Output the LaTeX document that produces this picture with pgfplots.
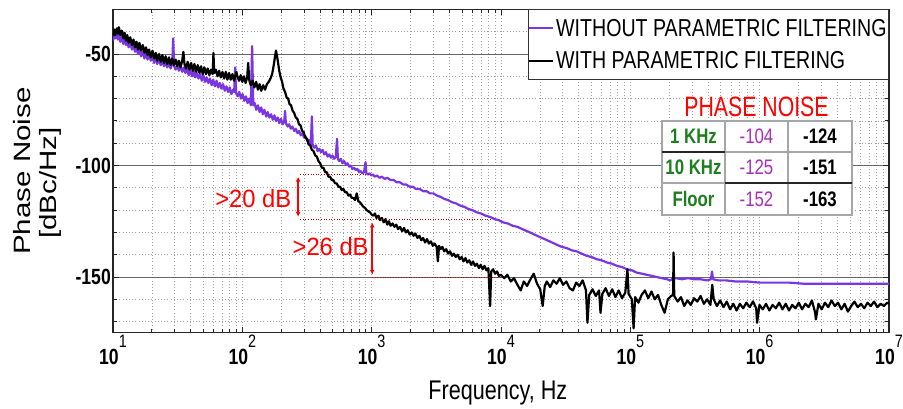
\documentclass[border=0pt]{standalone}
\usepackage{pgfplots}
\pgfplotsset{compat=1.18}
\usepackage{fontspec}
\usepackage{graphicx}
\usetikzlibrary{arrows.meta}
\setmainfont{Liberation Sans}[FakeStretch=0.8]
\newfontfamily\wfont{Liberation Sans}[FakeStretch=0.95]
\newfontfamily\plainfont{Liberation Sans}
\newfontfamily\cfont{Liberation Sans}[FakeStretch=0.76]
\definecolor{pline}{RGB}{123,54,227}
\definecolor{ptext}{RGB}{170,45,190}
\definecolor{gtext}{RGB}{30,125,30}
\newcommand{\tl}[1]{\textbf{10}\raisebox{17pt}{\fontsize{18}{18}\selectfont\mdseries #1}}
\begin{document}
\begin{tikzpicture}
\path[use as bounding box] (0,0) rectangle (903pt,409pt);
\begin{axis}[
  at={(113pt,76.2pt)}, anchor=south west,
  scale only axis, width=776pt, height=323.4pt,
  xmode=log, xmin=10, xmax=1e7, ymin=-175, ymax=-30,
  xtick={1e1,1e2,1e3,1e4,1e5,1e6,1e7},
  xticklabels={\tl{1},\tl{2},\tl{3},\tl{4},\tl{5},\tl{6},\tl{7}},
  minor xtick={20,30,40,50,60,70,80,90,200,300,400,500,600,700,800,900,2000,3000,4000,5000,6000,7000,8000,9000,20000,30000,40000,50000,60000,70000,80000,90000,200000,300000,400000,500000,600000,700000,800000,900000,2000000,3000000,4000000,5000000,6000000,7000000,8000000,9000000},
  ytick={-150,-100,-50}, yticklabels={-150,-100,-50},
  minor ytick={-170,-160,-140,-130,-120,-110,-90,-80,-70,-60,-40},
  grid=both,
  major x grid style={gray!75, line width=0.8pt, dash pattern=on 1pt off 2.2pt},
  minor x grid style={gray!75, line width=0.8pt, dash pattern=on 1pt off 2.2pt},
  major y grid style={black!60, line width=1pt},
  minor y grid style={gray!75, line width=0.8pt, dash pattern=on 1pt off 2.2pt},
  tick align=inside, tick pos=both,
  major tick length=6pt, minor tick length=4pt,
  tick style={black!85, line width=0.9pt},
  axis line style={black!85, line width=1.2pt},
  ticklabel style={font=\fontsize{22}{24}\selectfont\bfseries},
  xticklabel style={inner sep=2pt},
  yticklabel style={inner xsep=2pt},
  xlabel={Frequency, Hz},
  xlabel style={font=\fontsize{27}{30}\selectfont, at={(axis description cs:0.496,0)}, anchor=base, yshift=-67pt},
  ylabel={\scalebox{1}[0.8]{\plainfont\fontsize{29.5}{32.5}\selectfont\begin{tabular}{@{}c@{}}Phase Noise\\ {[dBc/Hz]}\hspace*{24pt}\end{tabular}}},
  ylabel style={at={(axis description cs:-0.0966,0.5)}, anchor=center},
  legend style={at={(rel axis cs:1,1)}, anchor=north east, draw=black!80, line width=1pt, fill=white,
    font=\fontsize{24.5}{28}\selectfont, inner xsep=0pt, inner ysep=2pt, row sep=0pt,
    nodes={inner ysep=7pt, inner xsep=2pt}},
  legend cell align=left,
  legend image code/.code={\draw[#1] (0pt,0pt) -- (24pt,0pt);},
]
\addplot[pline, line width=2.2pt, line join=round] coordinates {
(10,-44) (10.2,-41) (10.4,-43) (10.7,-40.5) (10.9,-43.5) (11.1,-41.5) (11.4,-44.5) (11.7,-42) (12,-45.5) (12.3,-43) (12.6,-46) (12.9,-44) (13.2,-47) (13.6,-45) (14,-48) (14.4,-46) (14.8,-49) (15.2,-47) (15.6,-50) (16,-48) (16.5,-51) (17,-49) (17.5,-52) (18,-49.5) (18.5,-52.5) (19,-50.5) (19.6,-53) (20.2,-51) (20.8,-54) (21.4,-51.5) (22,-54.5) (22.7,-52.5) (23.4,-55) (24.1,-53) (24.8,-55.5) (25.5,-53.5) (26.3,-56) (27.1,-54) (27.9,-56.5) (28.7,-54.5) (29.2,-43) (29.7,-55.5) (30.5,-57) (31.4,-55) (32.3,-57.5) (33.3,-55.5) (34.3,-58) (35.3,-56) (36.3,-58.5) (37.4,-56.5) (38.5,-59.5) (39.6,-57) (40.8,-60) (42,-57.5) (43.2,-60.5) (44.5,-58.5) (45.8,-61) (47.2,-59) (48.6,-62) (50,-59.5) (51.5,-62.5) (53,-60.5) (54.6,-63) (56.2,-61) (57.9,-64) (59.6,-61.5) (61.4,-64.5) (63.2,-62) (65.1,-65) (67,-63) (69,-65.5) (71,-63.5) (73.2,-66.5) (75.4,-64.5) (77.6,-67) (79.9,-65) (82.3,-68) (84.8,-66) (86.5,-67) (88,-56) (89.5,-67.5) (92,-69) (94.8,-67) (97.6,-70) (100.5,-68) (103.5,-71) (106.6,-69) (109.8,-72) (113,-70) (116.4,-73) (119,-46.5) (121.5,-73) (124.5,-72) (128,-75) (132,-73) (136,-76) (140,-74) (144,-77) (148,-75) (153,-78) (157,-76) (162,-78.5) (167,-77) (172,-79.5) (177,-77.5) (182,-80) (188,-78.5) (193,-81) (199,-79) (205,-81.5) (211,-80) (214,-75.5) (217,-81) (224,-82.5) (230,-81.5) (237,-83.5) (244,-82.5) (252,-84.5) (259,-83.5) (267,-85.5) (275,-84.5) (283,-86.5) (292,-85.5) (300,-87.5) (309,-87) (318,-89) (328,-88.5) (338,-91) (345,-78) (350,-91) (360,-92) (371,-91) (382,-93.5) (394,-92.5) (405,-94) (418,-93) (430,-95) (443,-94) (456,-96) (470,-95) (484,-96.5) (498,-95.5) (513,-97) (528,-96) (540,-88) (548,-97) (560,-98) (577,-97) (595,-99) (612,-98) (631,-99.5) (650,-99) (669,-100.5) (689,-100) (710,-101.5) (731,-101) (753,-102) (776,-101.5) (799,-103) (823,-102.5) (848,-103.5) (873,-103) (897,-98.5) (910,-103.5) (937,-104) (965,-103.5) (994,-104.5) (1024,-104) (1055,-105) (1100,-104.5) (1150,-105.5) (1200,-105) (1260,-106) (1320,-105.5) (1400,-106.5) (1480,-106.5) (1560,-107.5) (1650,-107.5) (1750,-108.5) (1850,-108.5) (1960,-109.5) (2080,-109.5) (2200,-110.5) (2350,-110.5) (2500,-111.5) (2660,-111.5) (2830,-112.5) (3000,-112.5) (3200,-113.5) (3400,-114) (3650,-115) (3900,-115.5) (4200,-116.5) (4500,-117) (4850,-118) (5200,-118.5) (5600,-119.5) (6000,-120) (6500,-121) (7000,-121.5) (7600,-122.5) (8200,-123) (8900,-124) (9600,-124.5) (10400,-125.5) (11300,-126) (12300,-127) (13400,-127.5) (14600,-128.5) (16000,-129.5) (17500,-130.5) (19000,-131.5) (20800,-132.5) (22700,-133.5) (24800,-134.5) (27000,-135.5) (29500,-136.5) (32200,-137) (35200,-138) (38500,-138.5) (42000,-139.5) (46000,-140.5) (50000,-141) (55000,-142) (60000,-142.5) (66000,-143.5) (72000,-144) (79000,-145) (86000,-145.5) (94000,-146.5) (103000,-147) (112000,-148) (123000,-148.5) (134000,-149) (147000,-149.5) (160000,-150) (175000,-150.5) (192000,-151) (205000,-151.5) (212000,-150.5) (225000,-150.5) (250000,-151) (280000,-150.5) (310000,-151) (350000,-151) (390000,-151.5) (420000,-151) (428000,-147.5) (436000,-151) (480000,-151.5) (550000,-151.5) (650000,-152) (800000,-152) (1000000,-152.5) (1300000,-152.5) (1700000,-152.5) (2200000,-153) (3000000,-153) (4000000,-153) (5500000,-153) (7500000,-153) (10000000,-153)
};
\addlegendentry{WITHOUT PARAMETRIC FILTERING}
\addplot[black, line width=2.2pt, line join=round] coordinates {
(10,-42) (10.2,-39) (10.4,-41.5) (10.7,-38.5) (10.9,-41) (11.1,-38) (11.4,-41.5) (11.7,-39.5) (12,-43) (12.3,-40.5) (12.6,-44) (12.9,-41.5) (13.2,-45) (13.6,-42.5) (14,-46) (14.4,-43.5) (14.8,-47) (15.2,-44.5) (15.6,-48) (16,-45) (16.5,-48.5) (17,-46) (17.5,-49.5) (18,-47) (18.5,-50.5) (19,-48) (19.6,-51.5) (20.2,-48.5) (20.8,-52) (21.4,-49.5) (22,-53) (22.7,-50) (23.4,-53.5) (24.1,-50.5) (24.8,-54) (25.5,-51) (26.3,-54.5) (27.1,-51.5) (27.9,-55) (28.7,-52) (29.6,-55) (30.5,-52.5) (31.4,-55.5) (32.3,-53) (33.3,-56) (34.3,-53) (35,-49) (35.7,-54.5) (36.7,-56.5) (37.8,-53.5) (39,-57) (40.2,-54) (41.4,-57.5) (42.6,-54.5) (43.9,-58) (45.2,-55) (46.6,-58.5) (48,-55.5) (49.4,-59) (50.9,-56) (52.4,-59) (54,-56.5) (55.6,-59.5) (57.3,-57) (59,-59) (59.8,-49.5) (60.6,-58.5) (62.4,-57) (64.3,-60) (66.2,-57.5) (68.2,-60.5) (70.2,-58) (72.3,-61) (74.5,-58) (76.7,-61.5) (79,-58.5) (81.4,-61.5) (83.8,-59) (86.3,-62) (88.9,-59) (90,-58) (91.6,-60) (94.3,-62) (97.1,-59.5) (100,-62.5) (103,-60) (106,-63) (109,-60.5) (111,-54) (113,-61.5) (116,-64) (120,-62) (124,-65) (128,-62.5) (132,-66) (136,-63.5) (140,-66.5) (145,-64) (150,-66) (155,-63.5) (160,-62.5) (165,-61) (170,-59) (175,-55) (179,-51) (182,-48.5) (185,-50.5) (189,-54) (193,-57.5) (198,-60.5) (203,-62.5) (208,-65.5) (214,-67) (220,-69.5) (226,-70) (232,-72.5) (238,-73) (245,-75.5) (252,-76.5) (259,-78.5) (266,-79) (274,-81.5) (282,-82) (290,-84.5) (298,-85) (307,-87.5) (316,-88) (325,-90.5) (335,-91) (345,-93) (355,-93.5) (366,-95.5) (377,-96) (388,-98) (400,-99) (412,-101) (424,-101) (437,-103) (450,-103) (463,-105) (477,-105) (491,-106.5) (506,-106.5) (521,-108) (537,-108) (553,-109.5) (570,-109.5) (587,-111) (605,-110.5) (623,-112) (642,-112) (661,-113.5) (681,-113) (701,-114.5) (722,-114.5) (744,-115.5) (766,-112.5) (789,-116) (812,-116.5) (837,-117.5) (862,-118.5) (888,-119) (914,-120) (942,-120.5) (970,-121) (1000,-122) (1030,-122.5) (1060,-121.5) (1090,-123.5) (1130,-122.5) (1160,-124.5) (1200,-123.5) (1240,-125.5) (1280,-124) (1320,-126.5) (1360,-125) (1400,-127) (1450,-126) (1500,-127.5) (1550,-126.5) (1600,-128.5) (1660,-127.5) (1720,-129.5) (1780,-128) (1840,-130) (1900,-129) (1970,-131) (2040,-130) (2110,-131.5) (2180,-130.5) (2260,-132.5) (2340,-131.5) (2420,-133.5) (2500,-132.5) (2590,-134.5) (2680,-133) (2770,-135) (2870,-134) (2970,-136) (3070,-135) (3180,-136.5) (3250,-143) (3320,-136) (3400,-137.5) (3520,-136.5) (3640,-138.5) (3770,-137.5) (3900,-139.5) (4040,-138.5) (4180,-140.5) (4320,-139.5) (4470,-141) (4630,-140) (4790,-142) (4960,-141) (5130,-143) (5310,-141.5) (5490,-143.5) (5680,-142.5) (5880,-144.5) (6080,-143) (6290,-145) (6510,-144) (6740,-146) (6970,-144.5) (7210,-146.5) (7460,-145) (7720,-147) (7990,-146) (8240,-163) (8400,-147.5) (8700,-146.5) (9000,-148.5) (9320,-147.5) (9640,-149.5) (10000,-149) (10600,-150.5) (11200,-149) (11900,-152) (12600,-150.5) (13400,-153.5) (14200,-156) (15000,-152) (15900,-154) (16900,-151) (17900,-148.5) (19000,-153) (20100,-155.5) (21000,-163) (21800,-154) (22600,-152) (24000,-154.5) (25400,-151.5) (26900,-153) (28500,-150.5) (30200,-153.5) (32000,-152) (33900,-155) (36000,-156) (38100,-152.5) (40400,-154) (42800,-151.5) (45400,-156) (46600,-170.5) (48100,-158) (51000,-155.5) (54100,-158.5) (57300,-156) (58800,-166) (60800,-157.5) (64400,-155) (68300,-158.5) (72400,-155.5) (76700,-159) (81300,-156) (86200,-159.5) (91400,-157) (95000,-146.5) (96900,-157.5) (102700,-160) (106000,-173) (108900,-159) (115400,-161.5) (122300,-158) (129700,-156) (137500,-159.5) (145700,-156.5) (154500,-160) (163700,-158) (173500,-162.5) (184000,-166) (195000,-160) (206700,-158.5) (214000,-158) (216000,-139) (218500,-158.5) (232200,-161) (246200,-159) (261000,-163) (276600,-160.5) (293200,-162.5) (310800,-159.5) (329500,-161) (349300,-158.5) (370200,-162) (392400,-160) (416000,-162.5) (430000,-153.5) (441000,-160) (467400,-163) (495500,-160.5) (525200,-163.5) (556700,-161) (590100,-164.5) (625600,-162) (663100,-165) (702900,-162) (745100,-164) (789800,-161.5) (837200,-163.5) (887400,-161) (940600,-164) (955000,-170.5) (997000,-162.5) (1057000,-164.5) (1120000,-162) (1188000,-165) (1259000,-162.5) (1334000,-164) (1414000,-161.5) (1500000,-164.5) (1590000,-162) (1685000,-165) (1786000,-162.5) (1893000,-164) (2007000,-161.5) (2128000,-164.5) (2255000,-162) (2390000,-163.5) (2534000,-160.5) (2686000,-166) (2720000,-169) (2847000,-162) (3018000,-164.5) (3199000,-161.5) (3391000,-163.5) (3594000,-160.5) (3810000,-163) (4039000,-161.5) (4281000,-164.5) (4538000,-162) (4810000,-165.5) (5099000,-163) (5405000,-161) (5729000,-163.5) (6073000,-162) (6437000,-164) (6824000,-161.5) (7233000,-163) (7667000,-161) (8127000,-163.5) (8615000,-162) (9132000,-163) (9680000,-161.5) (10000000,-162)
};
\addlegendentry{WITH PARAMETRIC FILTERING}
% annotations
\draw[red!80!black, line width=0.9pt, dash pattern=on 1pt off 1.6pt] (axis cs:280,-104) -- (axis cs:945,-104);
\draw[red!80!black, line width=0.9pt, dash pattern=on 1pt off 1.6pt] (axis cs:280,-124) -- (axis cs:8600,-124);
\draw[red!80!black, line width=0.9pt, dash pattern=on 1pt off 1.6pt] (axis cs:1010,-150) -- (axis cs:10000,-150);
\draw[red, line width=1.5pt, {Latex[length=5pt,width=5pt]}-{Latex[length=5pt,width=5pt]}] (axis cs:270,-105) -- (axis cs:270,-123);
\draw[red, line width=1.5pt, {Latex[length=5pt,width=5pt]}-{Latex[length=5pt,width=5pt]}] (axis cs:1010,-125.5) -- (axis cs:1010,-149);
\node[red, anchor=east, inner sep=0pt, font=\wfont\fontsize{25}{28}\selectfont] at (axis cs:240,-114.6) {>20 dB};
\node[red, anchor=east, inner sep=0pt, font=\wfont\fontsize{25}{28}\selectfont] at (axis cs:950,-136.5) {>26 dB};
\end{axis}
% phase-noise table
\node[red, anchor=base, inner sep=0pt, font=\cfont\fontsize{28}{30}\selectfont] at (756.5pt,292pt) {PHASE NOISE};
\fill[white] (662pt,194pt) rectangle (852pt,288pt);
\draw[gray!70, line width=1.2pt] (662pt,194pt) rectangle (852pt,288pt);
\draw[gray!70, line width=1.2pt] (725pt,194pt) -- (725pt,288pt) (788pt,194pt) -- (788pt,288pt)
  (662pt,257pt) -- (852pt,257pt) (662pt,226pt) -- (852pt,226pt);
\draw[black!85, line width=1.4pt] (662pt,257pt) -- (725pt,257pt) (725pt,226pt) -- (852pt,226pt);
\begin{scope}[every node/.style={inner sep=0pt, font=\fontsize{21}{22}\selectfont}]
\node[gtext, font=\fontsize{21}{22}\selectfont\bfseries] at (693.5pt,272.5pt) {1 KHz};
\node[gtext, font=\fontsize{21}{22}\selectfont\bfseries] at (693.5pt,241.5pt) {10 KHz};
\node[gtext, font=\fontsize{21}{22}\selectfont\bfseries] at (693.5pt,210pt) {Floor};
\node[ptext] at (756.5pt,272.5pt) {-104};
\node[ptext] at (756.5pt,241.5pt) {-125};
\node[ptext] at (756.5pt,210pt) {-152};
\node[black, font=\fontsize{21}{22}\selectfont\bfseries] at (820pt,272.5pt) {-124};
\node[black, font=\fontsize{21}{22}\selectfont\bfseries] at (820pt,241.5pt) {-151};
\node[black, font=\fontsize{21}{22}\selectfont\bfseries] at (820pt,210pt) {-163};
\end{scope}
\end{tikzpicture}
\end{document}
